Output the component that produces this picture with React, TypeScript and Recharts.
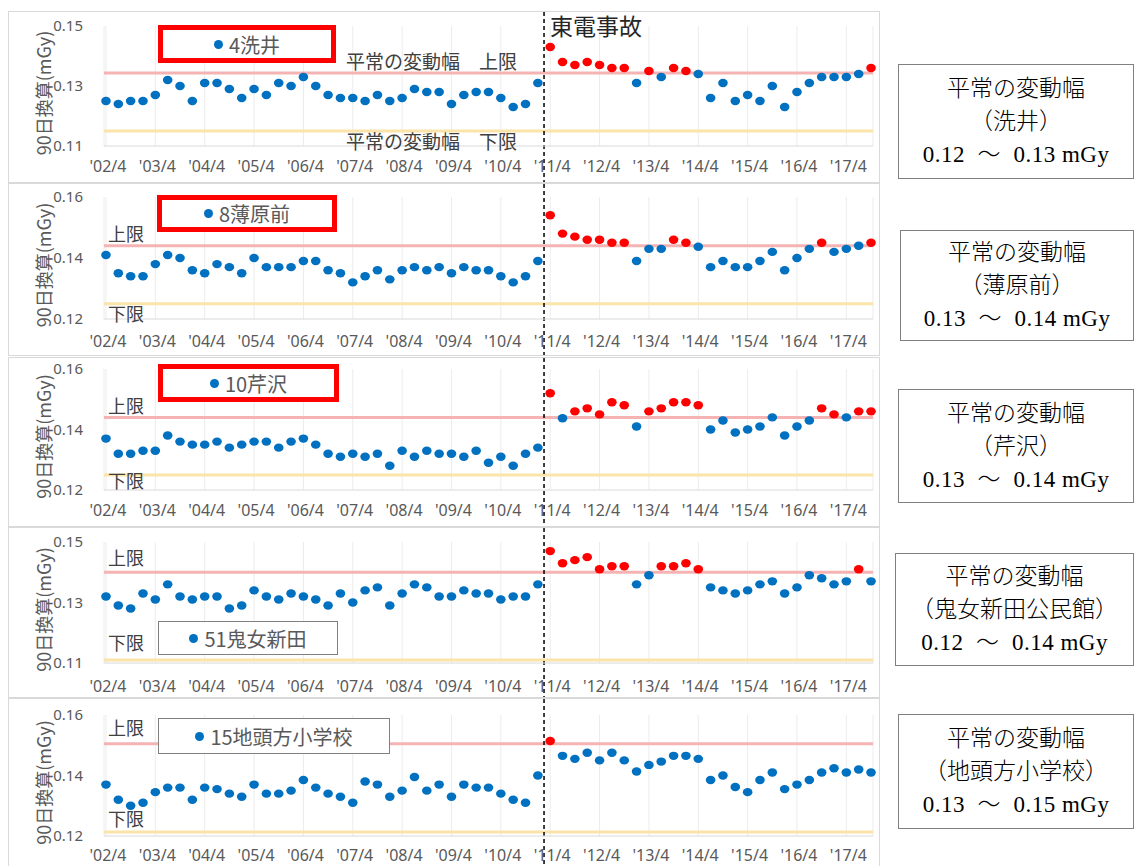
import { ScatterChart, Scatter, XAxis, YAxis, ZAxis, CartesianGrid, ReferenceLine } from 'recharts'

// quarterly 90-day values, '02/4 .. '17/10 (63 quarters)
const tickLabels = ["'02/4", "'03/4", "'04/4", "'05/4", "'06/4", "'07/4", "'08/4", "'09/4", "'10/4", "'11/4", "'12/4", "'13/4", "'14/4", "'15/4", "'16/4", "'17/4"]
const xTicks = tickLabels.map((_, i) => i * 4)
const accidentAt = 35.5

const araiValues = [
  0.125, 0.124, 0.125, 0.125, 0.127, 0.132, 0.130, 0.125, 0.131, 0.131, 0.129, 0.126, 0.129, 0.127, 0.131, 0.130, 0.133, 0.130,
  0.127, 0.126, 0.126, 0.125, 0.127, 0.125, 0.126, 0.129, 0.128, 0.128, 0.124, 0.127, 0.128, 0.128, 0.126, 0.123, 0.124, 0.131,
  0.143, 0.138, 0.137, 0.138, 0.137, 0.136, 0.136, 0.131, 0.135, 0.133, 0.136, 0.135, 0.134, 0.126, 0.131, 0.125, 0.127, 0.125,
  0.130, 0.123, 0.128, 0.131, 0.133, 0.133, 0.133, 0.134, 0.136,
]
const araiRed = [36, 37, 38, 39, 40, 41, 42, 44, 46, 47, 62]

const usuharaValues = [
  0.141, 0.135, 0.134, 0.134, 0.138, 0.141, 0.140, 0.136, 0.135, 0.138, 0.137, 0.135, 0.140, 0.137, 0.137, 0.137, 0.139, 0.139,
  0.136, 0.135, 0.132, 0.134, 0.136, 0.133, 0.136, 0.137, 0.136, 0.137, 0.135, 0.137, 0.136, 0.136, 0.134, 0.132, 0.134, 0.139,
  0.154, 0.148, 0.147, 0.146, 0.146, 0.145, 0.145, 0.139, 0.143, 0.143, 0.146, 0.145, 0.1437, 0.137, 0.139, 0.137, 0.137, 0.139,
  0.142, 0.136, 0.140, 0.143, 0.145, 0.142, 0.143, 0.144, 0.145,
]
const usuharaRed = [36, 37, 38, 39, 40, 41, 42, 46, 47, 58, 62]

const serizawaValues = [
  0.137, 0.132, 0.132, 0.133, 0.133, 0.138, 0.136, 0.135, 0.135, 0.136, 0.134, 0.135, 0.136, 0.136, 0.134, 0.136, 0.137, 0.135,
  0.132, 0.131, 0.132, 0.131, 0.132, 0.128, 0.133, 0.131, 0.133, 0.132, 0.132, 0.131, 0.133, 0.129, 0.131, 0.128, 0.132, 0.134,
  0.152, 0.1437, 0.146, 0.147, 0.145, 0.149, 0.148, 0.141, 0.146, 0.147, 0.149, 0.149, 0.148, 0.140, 0.143, 0.139, 0.140, 0.141,
  0.144, 0.138, 0.141, 0.143, 0.147, 0.145, 0.144, 0.146, 0.146,
]
const serizawaRed = [36, 38, 39, 40, 41, 42, 44, 45, 46, 47, 48, 58, 59, 61, 62]

const onnameValues = [
  0.132, 0.129, 0.128, 0.133, 0.131, 0.136, 0.132, 0.131, 0.132, 0.132, 0.128, 0.129, 0.134, 0.132, 0.131, 0.133, 0.132, 0.131,
  0.129, 0.133, 0.130, 0.134, 0.135, 0.129, 0.133, 0.136, 0.135, 0.132, 0.132, 0.134, 0.133, 0.133, 0.131, 0.132, 0.132, 0.136,
  0.147, 0.143, 0.144, 0.145, 0.141, 0.142, 0.142, 0.136, 0.139, 0.142, 0.142, 0.143, 0.141, 0.135, 0.134, 0.133, 0.134, 0.136,
  0.137, 0.133, 0.135, 0.139, 0.138, 0.136, 0.137, 0.141, 0.137,
]
const onnameRed = [36, 37, 38, 39, 40, 41, 42, 45, 46, 47, 48, 61]

const jitokataValues = [
  0.137, 0.132, 0.130, 0.131, 0.1345, 0.136, 0.136, 0.132, 0.136, 0.1355, 0.134, 0.133, 0.137, 0.134, 0.134, 0.135, 0.1385, 0.136,
  0.134, 0.133, 0.131, 0.138, 0.137, 0.133, 0.135, 0.1395, 0.135, 0.137, 0.133, 0.137, 0.136, 0.136, 0.134, 0.132, 0.131, 0.140,
  0.1514, 0.1465, 0.1455, 0.1475, 0.145, 0.1475, 0.145, 0.1413, 0.1435, 0.1446, 0.1465, 0.1465, 0.1455, 0.1385, 0.140, 0.1362, 0.1345, 0.1385,
  0.141, 0.1355, 0.137, 0.1385, 0.141, 0.1424, 0.141, 0.142, 0.141,
]
const jitokataRed = [36]

const BLUE = '#0070c0'
const RED = '#ff0000'
const PINK = '#f5b3b3'
const YELLOW = '#fbe4a9'
const GREY = '#595959'
const CJK = "'Noto Sans CJK JP', 'Noto Sans', sans-serif"

const panels = [
  {
    name: '4洗井', values: araiValues, red: araiRed, upper: 0.1343, lower: 0.115, yDomain: [0.11, 0.15], yTicks: [0.11, 0.13, 0.15],
    top: 11, height: 172, plotTop: 26, plotHeight: 120, labelGap: 9,
    legend: { left: 158, top: 25, width: 178, height: 38, boxed: true },
  },
  {
    name: '8薄原前', values: usuharaValues, red: usuharaRed, upper: 0.144, lower: 0.125, yDomain: [0.12, 0.16], yTicks: [0.12, 0.14, 0.16],
    top: 183, height: 173, plotTop: 197, plotHeight: 122, labelGap: 11,
    legend: { left: 157, top: 195, width: 180, height: 37, boxed: true },
    limits: [233, 313],
  },
  {
    name: '10芹沢', values: serizawaValues, red: serizawaRed, upper: 0.144, lower: 0.125, yDomain: [0.12, 0.16], yTicks: [0.12, 0.14, 0.16],
    top: 357, height: 170, plotTop: 369, plotHeight: 121, labelGap: 9,
    legend: { left: 158, top: 364, width: 181, height: 38, boxed: true },
    limits: [405, 480],
  },
  {
    name: '51鬼女新田', values: onnameValues, red: onnameRed, upper: 0.140, lower: 0.111, yDomain: [0.11, 0.15], yTicks: [0.11, 0.13, 0.15],
    top: 527, height: 171, plotTop: 542, plotHeight: 121, labelGap: 12,
    legend: { left: 158, top: 621, width: 180, height: 34, boxed: false },
    limits: [557, 642],
  },
  {
    name: '15地頭方小学校', values: jitokataValues, red: jitokataRed, upper: 0.1505, lower: 0.1213, yDomain: [0.12, 0.16], yTicks: [0.12, 0.14, 0.16],
    top: 698, height: 170, plotTop: 715, plotHeight: 121, labelGap: 8,
    legend: { left: 158, top: 718, width: 232, height: 36, boxed: false },
    limits: [727, 818],
  },
]

const boxes = [
  { site: '（洗井）', range: '0.12  ～  0.13 mGy', left: 898, top: 64, width: 236, height: 115 },
  { site: '（薄原前）', range: '0.13  ～  0.14 mGy', left: 900, top: 230, width: 234, height: 111 },
  { site: '（芹沢）', range: '0.13  ～  0.14 mGy', left: 898, top: 389, width: 236, height: 114 },
  { site: '（鬼女新田公民館）', range: '0.12  ～  0.14 mGy', left: 895, top: 553, width: 239, height: 113 },
  { site: '（地頭方小学校）', range: '0.13  ～  0.15 mGy', left: 898, top: 714, width: 236, height: 115 },
]

const AxisTitle = ({ viewBox }: any) => {
  const cx = viewBox.x - 1
  const cy = viewBox.y + viewBox.height / 2 + 7
  return (
    <text x={cx} y={cy} transform={`rotate(-90 ${cx} ${cy})`} textAnchor="middle" dominantBaseline="central"
      fill={GREY} fontSize={18} fontFamily={CJK}>
      90日換算(mGy)
    </text>
  )
}

const Dot = ({ cx, cy, fill }: any) => <ellipse cx={cx} cy={cy} rx={4.8} ry={4.2} fill={fill} />

function Panel({ p }: { p: any }) {
  const chartH = p.height - 2
  const mt = p.plotTop - (p.top + 1)
  const points = p.values.map((y: number, x: number) => ({ x, y }))
  const blue = points.filter((d: any) => !p.red.includes(d.x))
  const red = points.filter((d: any) => p.red.includes(d.x))
  return (
    <div style={{ position: 'absolute', left: 8, top: p.top, width: 872, height: p.height, boxSizing: 'border-box', border: '1px solid #d9d9d9', background: '#fff' }}>
      <ScatterChart width={870} height={chartH} margin={{ top: mt, right: 6, left: 35, bottom: chartH - mt - p.plotHeight - 30 }}>
        <CartesianGrid horizontal={false} stroke="#ececec" />
        <XAxis type="number" dataKey="x" domain={[-0.16, 62.16]} ticks={xTicks} interval={0}
          tickFormatter={(v: number) => tickLabels[v / 4]} tickLine={false} axisLine={{ stroke: '#d9d9d9' }}
          tickMargin={p.labelGap} tick={{ fill: GREY, fontSize: 16, fontFamily: 'Noto Sans', dx: 2 }} height={30} />
        <YAxis type="number" dataKey="y" domain={p.yDomain} ticks={p.yTicks} axisLine={false} tickLine={false}
          tickFormatter={(v: number) => v.toFixed(2)} tickMargin={15} width={60}
          tick={{ fill: GREY, fontSize: 15, fontFamily: 'Noto Sans' }} label={<AxisTitle />} />
        <ZAxis range={[64, 64]} />
        <ReferenceLine y={p.upper} stroke={PINK} strokeWidth={3} />
        <ReferenceLine y={p.lower} stroke={YELLOW} strokeWidth={3} />
        <ReferenceLine x={accidentAt} shape={(s: any) => (
          <line x1={s.x1} x2={s.x1} y1={0} y2={chartH} stroke="#000" strokeWidth={1.5} strokeDasharray="4 3" />
        )} />
        <Scatter data={blue} fill={BLUE} shape={<Dot />} isAnimationActive={false} />
        <Scatter data={red} fill={RED} shape={<Dot />} isAnimationActive={false} />
      </ScatterChart>
    </div>
  )
}

function Legend({ p }: { p: any }) {
  const l = p.legend
  return (
    <div style={{
      position: 'absolute', left: l.left, top: l.top, width: l.width, height: l.height, boxSizing: 'border-box',
      border: l.boxed ? '5px solid #ff0000' : '1px solid #808080', background: '#fff',
      display: 'flex', alignItems: 'center', justifyContent: 'center', gap: 6,
      fontFamily: CJK, fontSize: 20, color: GREY,
    }}>
      <span style={{ width: 9, height: 9, borderRadius: '50%', background: BLUE, display: 'inline-block' }} />
      <span>{p.name}</span>
    </div>
  )
}

const label = (text: string, left: number, cy: number, size: number, color = '#404040') => (
  <div key={text + cy} style={{ position: 'absolute', left, top: cy - size * 0.75, fontSize: size, lineHeight: `${size * 1.5}px`, fontFamily: CJK, color, whiteSpace: 'pre' }}>
    {text}
  </div>
)

export default function App() {
  return (
    <div style={{ position: 'absolute', left: 0, top: 0, width: 1135, height: 866, background: '#fff', overflow: 'hidden' }}>
      {panels.map((p) => <Panel key={p.name} p={p} />)}
      {panels.map((p) => <Legend key={p.name} p={p} />)}
      {label('平常の変動幅　上限', 346, 61, 19)}
      {label('平常の変動幅　下限', 346, 141, 19)}
      {label('東電事故', 550, 25, 23, '#262626')}
      {panels.filter((p) => p.limits).map((p) => [
        label('上限', 108, p.limits![0], 18),
        label('下限', 108, p.limits![1], 18),
      ])}
      {boxes.map((b) => (
        <div key={b.site} style={{
          position: 'absolute', left: b.left, top: b.top, width: b.width, height: b.height, boxSizing: 'border-box',
          border: '1px solid #808080', background: '#fff', display: 'flex', flexDirection: 'column',
          alignItems: 'center', justifyContent: 'center', fontFamily: "'Liberation Serif', 'Noto Sans CJK JP', serif",
          fontSize: 23, lineHeight: '33px', color: '#000', fontWeight: 300,
        }}>
          <div>平常の変動幅</div>
          <div>{b.site}</div>
          <div style={{ whiteSpace: 'pre', letterSpacing: 0.5 }}>{b.range}</div>
        </div>
      ))}
    </div>
  )
}
